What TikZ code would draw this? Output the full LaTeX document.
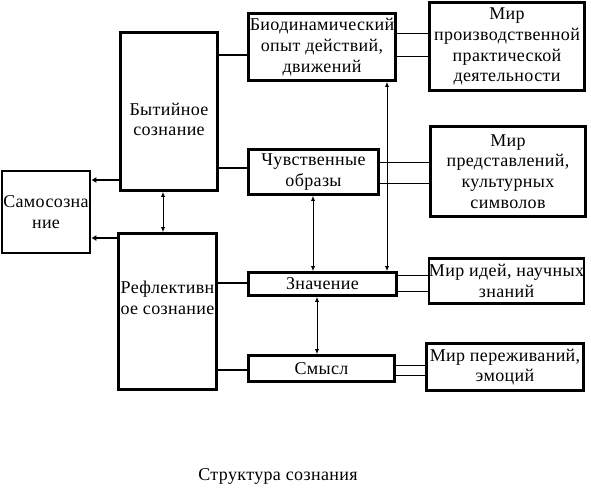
\documentclass[tikz,border=0pt]{standalone}
\usepackage{fontspec}
\setmainfont{Liberation Serif}[LetterSpace=2]
\usetikzlibrary{arrows.meta}

\begin{document}
\begin{tikzpicture}[x=1pt,y=-1pt,
	blok/.style={draw, line width=2.6pt, align=center, inner sep=0pt, font=\fontsize{18}{20.7}\selectfont},
	gruba/.style={line width=2.6pt},
	cienka/.style={line width=0.8pt},
	dwustr/.style={line width=0.8pt, {Latex[length=5pt,width=4pt]}-{Latex[length=5pt,width=4pt]}},
	strz/.style={line width=2.6pt, -{Latex[length=5pt,width=6pt]}}]
	\useasboundingbox (0,0) rectangle (591,497);
	
	% Bloki lewe
	\node[blok, minimum width=88pt, minimum height=82pt] (samo) at (46,212) {Самосозна\\ние};
	\node[blok, minimum width=97pt, minimum height=158pt,
		label={[align=center, yshift=-8pt, font=\fontsize{18}{20.7}\selectfont]center:Бытийное\\сознание}] (byt) at (169,111.5) {};
	\node[blok, minimum width=98pt, minimum height=156pt,
		label={[align=center, yshift=14pt, font=\fontsize{18}{20.7}\selectfont]center:Рефлективн\\ое сознание}] (refl) at (167.5,311.5) {};
	
	% Bloki srodkowe
	\node[blok, minimum width=147pt, minimum height=67pt] (bio) at (322,47) {Биодинамический\\опыт действий,\\движений};
	\node[blok, minimum width=130pt, minimum height=45pt] (chuv) at (313.5,172) {Чувственные\\образы};
	\node[blok, minimum width=148pt, minimum height=23pt] (znach) at (322.5,284) {Значение};
	\node[blok, minimum width=146pt, minimum height=26pt] (smysl) at (321.5,368.5) {Смысл};
	
	% Bloki prawe
	\node[blok, minimum width=155pt, minimum height=88pt] (mirA) at (507,46.5) {Мир\\производственной\\практической\\деятельности};
	\node[blok, minimum width=155pt, minimum height=90pt] (mirB) at (508,171.5) {Мир\\представлений,\\культурных\\символов};
	\node[blok, minimum width=154pt, minimum height=45pt] (mirC) at (506.5,281) {Мир идей, научных\\знаний};
	\node[blok, minimum width=157pt, minimum height=47pt] (mirD) at (505,367) {Мир переживаний,\\эмоций};
	
	% Polaczenia grube
	\draw[gruba] (byt.east |- 0,55) -- (bio.west |- 0,55);
	\draw[gruba] (byt.east |- 0,168) -- (chuv.west |- 0,168);
	\draw[gruba] (refl.east |- 0,283) -- (znach.west |- 0,283);
	\draw[gruba] (refl.east |- 0,370) -- (smysl.west |- 0,370);
	\draw[strz] (byt.west |- 0,180) -- (samo.east |- 0,180);
	\draw[strz] (refl.west |- 0,238) -- (samo.east |- 0,238);
	
	% Polaczenia podwojne
	\draw[cienka] (bio.east |- 0,33) -- (mirA.west |- 0,33);
	\draw[cienka] (bio.east |- 0,56) -- (mirA.west |- 0,56);
	\draw[cienka] (chuv.east |- 0,162) -- (mirB.west |- 0,162);
	\draw[cienka] (chuv.east |- 0,183) -- (mirB.west |- 0,183);
	\draw[cienka] (znach.east |- 0,275) -- (mirC.west |- 0,275);
	\draw[cienka] (znach.east |- 0,291) -- (mirC.west |- 0,291);
	\draw[cienka] (smysl.east |- 0,365) -- (mirD.west |- 0,365);
	\draw[cienka] (smysl.east |- 0,375) -- (mirD.west |- 0,375);
	
	% Strzalki pionowe
	\draw[dwustr] (byt.south -| 163,0) -- (refl.north -| 163,0);
	\draw[dwustr] (chuv.south -| 313,0) -- (znach.north -| 313,0);
	\draw[dwustr] (bio.south -| 387,0) -- (znach.north -| 387,0);
	\draw[dwustr] (znach.south -| 317,0) -- (smysl.north -| 317,0);
	
	% Podpis
	\node[font=\fontsize{18}{20.7}\selectfont] (podpis) at (278,476) {Структура сознания};
\end{tikzpicture}
\end{document}
